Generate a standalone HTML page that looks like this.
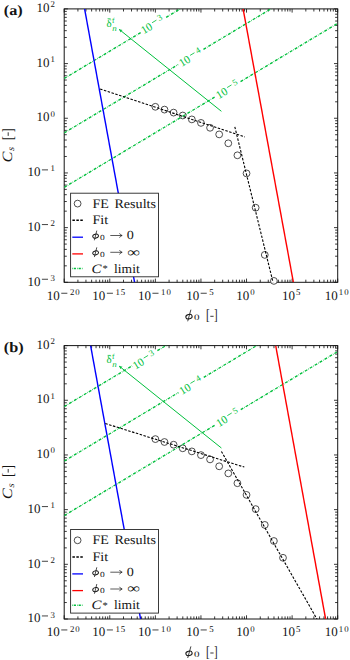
<!DOCTYPE html>
<html><head><meta charset="utf-8"><style>
html,body{margin:0;padding:0;background:#fff;}
svg{display:block;}
text{font-family:"Liberation Serif",serif;text-rendering:geometricPrecision;}
.g text{stroke:none;}
</style></head><body>
<svg width="350" height="660" viewBox="0 0 350 660">
<rect width="350" height="660" fill="#fff"/>
<g fill="#141414" color="#141414">
<rect x="64.20" y="8.90" width="273.50" height="273.40" fill="none" stroke="#151515" stroke-width="1.0"/>
<path d="M64.20,282.30h3.7M337.70,282.30h-3.7M64.20,265.84h2.6M337.70,265.84h-2.6M64.20,256.21h2.6M337.70,256.21h-2.6M64.20,249.38h2.6M337.70,249.38h-2.6M64.20,244.08h2.6M337.70,244.08h-2.6M64.20,239.75h2.6M337.70,239.75h-2.6M64.20,236.09h2.6M337.70,236.09h-2.6M64.20,232.92h2.6M337.70,232.92h-2.6M64.20,230.12h2.6M337.70,230.12h-2.6M64.20,227.62h3.7M337.70,227.62h-3.7M64.20,211.16h2.6M337.70,211.16h-2.6M64.20,201.53h2.6M337.70,201.53h-2.6M64.20,194.70h2.6M337.70,194.70h-2.6M64.20,189.40h2.6M337.70,189.40h-2.6M64.20,185.07h2.6M337.70,185.07h-2.6M64.20,181.41h2.6M337.70,181.41h-2.6M64.20,178.24h2.6M337.70,178.24h-2.6M64.20,175.44h2.6M337.70,175.44h-2.6M64.20,172.94h3.7M337.70,172.94h-3.7M64.20,156.48h2.6M337.70,156.48h-2.6M64.20,146.85h2.6M337.70,146.85h-2.6M64.20,140.02h2.6M337.70,140.02h-2.6M64.20,134.72h2.6M337.70,134.72h-2.6M64.20,130.39h2.6M337.70,130.39h-2.6M64.20,126.73h2.6M337.70,126.73h-2.6M64.20,123.56h2.6M337.70,123.56h-2.6M64.20,120.76h2.6M337.70,120.76h-2.6M64.20,118.26h3.7M337.70,118.26h-3.7M64.20,101.80h2.6M337.70,101.80h-2.6M64.20,92.17h2.6M337.70,92.17h-2.6M64.20,85.34h2.6M337.70,85.34h-2.6M64.20,80.04h2.6M337.70,80.04h-2.6M64.20,75.71h2.6M337.70,75.71h-2.6M64.20,72.05h2.6M337.70,72.05h-2.6M64.20,68.88h2.6M337.70,68.88h-2.6M64.20,66.08h2.6M337.70,66.08h-2.6M64.20,63.58h3.7M337.70,63.58h-3.7M64.20,47.12h2.6M337.70,47.12h-2.6M64.20,37.49h2.6M337.70,37.49h-2.6M64.20,30.66h2.6M337.70,30.66h-2.6M64.20,25.36h2.6M337.70,25.36h-2.6M64.20,21.03h2.6M337.70,21.03h-2.6M64.20,17.37h2.6M337.70,17.37h-2.6M64.20,14.20h2.6M337.70,14.20h-2.6M64.20,11.40h2.6M337.70,11.40h-2.6M64.20,8.90h3.7M337.70,8.90h-3.7M64.20,282.30v-3.7M64.20,8.90v3.7M77.92,282.30v-2.6M77.92,8.90v2.6M85.95,282.30v-2.6M85.95,8.90v2.6M91.64,282.30v-2.6M91.64,8.90v2.6M96.06,282.30v-2.6M96.06,8.90v2.6M99.67,282.30v-2.6M99.67,8.90v2.6M102.72,282.30v-2.6M102.72,8.90v2.6M105.37,282.30v-2.6M105.37,8.90v2.6M107.70,282.30v-2.6M107.70,8.90v2.6M109.78,282.30v-3.7M109.78,8.90v3.7M123.51,282.30v-2.6M123.51,8.90v2.6M131.53,282.30v-2.6M131.53,8.90v2.6M137.23,282.30v-2.6M137.23,8.90v2.6M141.64,282.30v-2.6M141.64,8.90v2.6M145.25,282.30v-2.6M145.25,8.90v2.6M148.31,282.30v-2.6M148.31,8.90v2.6M150.95,282.30v-2.6M150.95,8.90v2.6M153.28,282.30v-2.6M153.28,8.90v2.6M155.37,282.30v-3.7M155.37,8.90v3.7M169.09,282.30v-2.6M169.09,8.90v2.6M177.12,282.30v-2.6M177.12,8.90v2.6M182.81,282.30v-2.6M182.81,8.90v2.6M187.23,282.30v-2.6M187.23,8.90v2.6M190.84,282.30v-2.6M190.84,8.90v2.6M193.89,282.30v-2.6M193.89,8.90v2.6M196.53,282.30v-2.6M196.53,8.90v2.6M198.86,282.30v-2.6M198.86,8.90v2.6M200.95,282.30v-3.7M200.95,8.90v3.7M214.67,282.30v-2.6M214.67,8.90v2.6M222.70,282.30v-2.6M222.70,8.90v2.6M228.39,282.30v-2.6M228.39,8.90v2.6M232.81,282.30v-2.6M232.81,8.90v2.6M236.42,282.30v-2.6M236.42,8.90v2.6M239.47,282.30v-2.6M239.47,8.90v2.6M242.12,282.30v-2.6M242.12,8.90v2.6M244.45,282.30v-2.6M244.45,8.90v2.6M246.53,282.30v-3.7M246.53,8.90v3.7M260.26,282.30v-2.6M260.26,8.90v2.6M268.28,282.30v-2.6M268.28,8.90v2.6M273.98,282.30v-2.6M273.98,8.90v2.6M278.39,282.30v-2.6M278.39,8.90v2.6M282.00,282.30v-2.6M282.00,8.90v2.6M285.06,282.30v-2.6M285.06,8.90v2.6M287.70,282.30v-2.6M287.70,8.90v2.6M290.03,282.30v-2.6M290.03,8.90v2.6M292.12,282.30v-3.7M292.12,8.90v3.7M305.84,282.30v-2.6M305.84,8.90v2.6M313.87,282.30v-2.6M313.87,8.90v2.6M319.56,282.30v-2.6M319.56,8.90v2.6M323.98,282.30v-2.6M323.98,8.90v2.6M327.59,282.30v-2.6M327.59,8.90v2.6M330.64,282.30v-2.6M330.64,8.90v2.6M333.28,282.30v-2.6M333.28,8.90v2.6M335.61,282.30v-2.6M335.61,8.90v2.6M337.70,282.30v-3.7M337.70,8.90v3.7" stroke="#151515" stroke-width="0.85" fill="none"/>
<circle cx="155.37" cy="106.80" r="3.4" fill="#fff" stroke="#2e2e2e" stroke-width="0.85"/>
<circle cx="164.48" cy="109.60" r="3.4" fill="#fff" stroke="#2e2e2e" stroke-width="0.85"/>
<circle cx="173.60" cy="112.60" r="3.4" fill="#fff" stroke="#2e2e2e" stroke-width="0.85"/>
<circle cx="182.72" cy="115.50" r="3.4" fill="#fff" stroke="#2e2e2e" stroke-width="0.85"/>
<circle cx="191.83" cy="119.40" r="3.4" fill="#fff" stroke="#2e2e2e" stroke-width="0.85"/>
<circle cx="200.95" cy="122.90" r="3.4" fill="#fff" stroke="#2e2e2e" stroke-width="0.85"/>
<circle cx="210.07" cy="127.80" r="3.4" fill="#fff" stroke="#2e2e2e" stroke-width="0.85"/>
<circle cx="219.18" cy="134.40" r="3.4" fill="#fff" stroke="#2e2e2e" stroke-width="0.85"/>
<circle cx="228.30" cy="143.30" r="3.4" fill="#fff" stroke="#2e2e2e" stroke-width="0.85"/>
<circle cx="237.42" cy="155.30" r="3.4" fill="#fff" stroke="#2e2e2e" stroke-width="0.85"/>
<circle cx="246.53" cy="173.40" r="3.4" fill="#fff" stroke="#2e2e2e" stroke-width="0.85"/>
<circle cx="255.65" cy="207.70" r="3.4" fill="#fff" stroke="#2e2e2e" stroke-width="0.85"/>
<circle cx="264.77" cy="254.90" r="3.4" fill="#fff" stroke="#2e2e2e" stroke-width="0.85"/>
<circle cx="273.88" cy="280.90" r="3.4" fill="#fff" stroke="#2e2e2e" stroke-width="0.85"/>
<clipPath id="clip0"><rect x="64.20" y="8.90" width="273.50" height="273.40"/></clipPath>
<g clip-path="url(#clip0)">
<line x1="64.20" y1="78.50" x2="140.85" y2="32.51" stroke="#00bf3c" stroke-width="1.35" stroke-dasharray="2.9 1.15 0.55 1.15"/>
<line x1="166.15" y1="17.33" x2="337.70" y2="-85.60" stroke="#00bf3c" stroke-width="1.35" stroke-dasharray="2.9 1.15 0.55 1.15"/>
<line x1="64.20" y1="132.90" x2="178.15" y2="64.53" stroke="#00bf3c" stroke-width="1.35" stroke-dasharray="2.9 1.15 0.55 1.15"/>
<line x1="203.45" y1="49.35" x2="337.70" y2="-31.20" stroke="#00bf3c" stroke-width="1.35" stroke-dasharray="2.9 1.15 0.55 1.15"/>
<line x1="64.20" y1="187.40" x2="215.25" y2="96.77" stroke="#00bf3c" stroke-width="1.35" stroke-dasharray="2.9 1.15 0.55 1.15"/>
<line x1="240.55" y1="81.59" x2="337.70" y2="23.30" stroke="#00bf3c" stroke-width="1.35" stroke-dasharray="2.9 1.15 0.55 1.15"/>
<line x1="84.60" y1="8.90" x2="134.60" y2="282.30" stroke="#0000ff" stroke-width="1.4"/>
<line x1="243.10" y1="8.90" x2="293.40" y2="282.30" stroke="#ff0000" stroke-width="1.4"/>
<line x1="119.20" y1="29.40" x2="221.40" y2="111.30" stroke="#00bf3c" stroke-width="1.0"/>
<path d="M118.97,29.21 L120.62,32.59 L121.15,30.96 L122.62,30.09 Z" fill="#00bf3c"/>
<path d="M100.10,88.90 L244.90,137.00" fill="none" stroke="#000" stroke-width="1.1" stroke-dasharray="2.5 1.5"/>
<path d="M234.80,126.80 L273.20,283.00" fill="none" stroke="#000" stroke-width="1.1" stroke-dasharray="2.5 1.5"/>
</g>
<g transform="translate(153.50,24.92) rotate(-30.96) translate(0,0)" fill="#00bf3c" class="g">
<text x="-13.2" y="3.1" font-size="11.2">10</text>
<line x1="-0.1" y1="-2.6" x2="5.0" y2="-2.6" stroke="#00bf3c" stroke-width="0.75"/>
<text x="6.9" y="-0.1" font-size="8.8">3</text>
</g>
<g transform="translate(190.80,56.94) rotate(-30.96) translate(0.3,0.9)" fill="#00bf3c" class="g">
<text x="-13.2" y="3.1" font-size="11.2">10</text>
<line x1="-0.1" y1="-2.6" x2="5.0" y2="-2.6" stroke="#00bf3c" stroke-width="0.75"/>
<text x="6.9" y="-0.1" font-size="8.8">4</text>
</g>
<g transform="translate(227.90,89.18) rotate(-30.96) translate(0.3,0.8)" fill="#00bf3c" class="g">
<text x="-13.2" y="3.1" font-size="11.2">10</text>
<line x1="-0.1" y1="-2.6" x2="5.0" y2="-2.6" stroke="#00bf3c" stroke-width="0.75"/>
<text x="6.9" y="-0.1" font-size="8.8">5</text>
</g>
<g fill="#00bf3c" class="g">
<text x="106.50" y="26.50" font-size="10.9">δ</text>
<line x1="107.60" y1="18.70" x2="110.60" y2="18.70" stroke="#00bf3c" stroke-width="0.7"/>
<text x="112.10" y="22.60" font-size="7.4">f</text>
<text transform="translate(112.20,30.60) scale(1.12,1)" font-size="8.0" font-style="italic">n</text>
</g>
<rect x="70.60" y="193.20" width="87.90" height="83.60" fill="#fff" stroke="#262626" stroke-width="0.9"/>
<circle cx="77.6" cy="203.60" r="3.4" fill="none" stroke="#2e2e2e" stroke-width="0.85"/>
<line x1="72.4" y1="220.30" x2="82.8" y2="220.30" stroke="#000" stroke-width="1.5" stroke-dasharray="2.5 1.45"/>
<line x1="72.3" y1="237.20" x2="83.0" y2="237.20" stroke="#0000ff" stroke-width="1.3"/>
<line x1="72.3" y1="253.90" x2="83.0" y2="253.90" stroke="#ff0000" stroke-width="1.3"/>
<line x1="72.1" y1="268.50" x2="83.0" y2="268.50" stroke="#00bf3c" stroke-width="1.35" stroke-dasharray="0.6 1.05 2.2 1.05"/>
<text transform="translate(92.40,207.50) scale(1.081,1)" font-size="13.0">FE</text>
<text transform="translate(114.39,207.50) scale(1.087,1)" font-size="13.0">Results</text>
<text transform="translate(92.39,224.00) scale(1.093,1)" font-size="13.0">Fit</text>
<ellipse cx="95.60" cy="236.10" rx="2.9" ry="2.0" transform="rotate(-15 95.60 236.10)" fill="none" stroke="#141414" stroke-width="0.95"/><line x1="96.80" y1="230.60" x2="94.40" y2="240.30" stroke="#141414" stroke-width="0.75"/>
<text transform="translate(100.04,240.00) scale(1.210,1)" font-size="7.8">0</text>
<path d="M110.3,235.50H121.9M119.5,233.30Q120.3,235.10 122.2,235.50Q120.3,235.90 119.5,237.70" fill="none" stroke="#141414" stroke-width="0.7"/>
<ellipse cx="95.60" cy="252.85" rx="2.9" ry="2.0" transform="rotate(-15 95.60 252.85)" fill="none" stroke="#141414" stroke-width="0.95"/><line x1="96.80" y1="247.35" x2="94.40" y2="257.05" stroke="#141414" stroke-width="0.75"/>
<text transform="translate(100.04,256.75) scale(1.210,1)" font-size="7.8">0</text>
<path d="M110.3,252.30H121.9M119.5,250.10Q120.3,251.90 122.2,252.30Q120.3,252.70 119.5,254.50" fill="none" stroke="#141414" stroke-width="0.7"/>
<text transform="translate(126.66,238.80) scale(1.142,1)" font-size="12.4">0</text>
<text transform="translate(127.23,256.70) scale(1.260,1)" font-size="14.2">∞</text>
<text transform="translate(91.57,272.50) scale(1.171,1)" font-size="12.8" font-style="italic">C</text>
<text x="102.6" y="271.90" font-size="10.5">*</text>
<text transform="translate(114.03,272.50) scale(1.044,1)" font-size="13.0">limit</text>
<text x="36.60" y="12.10" font-size="13.0">10</text>
<text x="50.60" y="7.40" font-size="8.8" letter-spacing="0.9">2</text>
<text x="36.60" y="66.78" font-size="13.0">10</text>
<text x="50.60" y="62.08" font-size="8.8" letter-spacing="0.9">1</text>
<text x="36.60" y="121.46" font-size="13.0">10</text>
<text x="50.60" y="116.76" font-size="8.8" letter-spacing="0.9">0</text>
<text x="27.40" y="176.14" font-size="13.0">10</text>
<line x1="41.90" y1="169.89" x2="48.00" y2="169.89" stroke="#141414" stroke-width="0.8"/>
<text x="50.60" y="171.44" font-size="8.8" letter-spacing="0.9">1</text>
<text x="27.40" y="230.82" font-size="13.0">10</text>
<line x1="41.90" y1="224.57" x2="48.00" y2="224.57" stroke="#141414" stroke-width="0.8"/>
<text x="50.60" y="226.12" font-size="8.8" letter-spacing="0.9">2</text>
<text x="27.40" y="285.50" font-size="13.0">10</text>
<line x1="41.90" y1="279.25" x2="48.00" y2="279.25" stroke="#141414" stroke-width="0.8"/>
<text x="50.60" y="280.80" font-size="8.8" letter-spacing="0.9">3</text>
<text x="46.75" y="299.50" font-size="13.0">10</text>
<line x1="61.25" y1="293.25" x2="67.35" y2="293.25" stroke="#141414" stroke-width="0.8"/>
<text x="69.95" y="294.80" font-size="8.8" letter-spacing="0.9">20</text>
<text x="92.33" y="299.50" font-size="13.0">10</text>
<line x1="106.83" y1="293.25" x2="112.93" y2="293.25" stroke="#141414" stroke-width="0.8"/>
<text x="115.53" y="294.80" font-size="8.8" letter-spacing="0.9">15</text>
<text x="137.92" y="299.50" font-size="13.0">10</text>
<line x1="152.42" y1="293.25" x2="158.52" y2="293.25" stroke="#141414" stroke-width="0.8"/>
<text x="161.12" y="294.80" font-size="8.8" letter-spacing="0.9">10</text>
<text x="186.15" y="299.50" font-size="13.0">10</text>
<line x1="200.65" y1="293.25" x2="206.75" y2="293.25" stroke="#141414" stroke-width="0.8"/>
<text x="209.35" y="294.80" font-size="8.8" letter-spacing="0.9">5</text>
<text x="236.33" y="299.50" font-size="13.0">10</text>
<text x="250.33" y="294.80" font-size="8.8" letter-spacing="0.9">0</text>
<text x="281.92" y="299.50" font-size="13.0">10</text>
<text x="295.92" y="294.80" font-size="8.8" letter-spacing="0.9">5</text>
<text x="324.85" y="299.50" font-size="13.0">10</text>
<text x="338.85" y="294.80" font-size="8.8" letter-spacing="0.9">10</text>
<ellipse cx="189.00" cy="316.70" rx="3.2" ry="2.2" transform="rotate(-15 189.00 316.70)" fill="none" stroke="#141414" stroke-width="1.0"/><line x1="190.90" y1="309.70" x2="187.70" y2="321.30" stroke="#141414" stroke-width="0.8"/>
<text transform="translate(193.98,320.40) scale(1.336,1)" font-size="8.3">0</text>
<text transform="translate(206.07,319.80) scale(0.724,1)" font-size="15.5">[</text>
<text transform="translate(214.01,319.80) scale(0.695,1)" font-size="15.5">]</text>
<line x1="210.3" y1="316.30" x2="213.6" y2="316.30" stroke="#141414" stroke-width="0.85"/>
<g transform="translate(11.7,162.50) rotate(-90)">
<text transform="scale(1.15,1)" font-size="14.2" font-style="italic">C</text>
<text transform="translate(11.6,1.8) scale(1.12,1)" font-size="9.6" font-style="italic">s</text>
<text transform="translate(22.5,1.2) scale(0.74,1)" font-size="15.5">[</text>
<text transform="translate(30.3,1.2) scale(0.74,1)" font-size="15.5">]</text>
<line x1="26.6" y1="-3.5" x2="30.2" y2="-3.5" stroke="#141414" stroke-width="0.85"/>
</g>
<text transform="translate(3.8,15.00) scale(1.12,1)" font-size="14.5" font-weight="bold">(a)</text>
<rect x="64.20" y="345.60" width="273.50" height="273.40" fill="none" stroke="#151515" stroke-width="1.0"/>
<path d="M64.20,619.00h3.7M337.70,619.00h-3.7M64.20,602.54h2.6M337.70,602.54h-2.6M64.20,592.91h2.6M337.70,592.91h-2.6M64.20,586.08h2.6M337.70,586.08h-2.6M64.20,580.78h2.6M337.70,580.78h-2.6M64.20,576.45h2.6M337.70,576.45h-2.6M64.20,572.79h2.6M337.70,572.79h-2.6M64.20,569.62h2.6M337.70,569.62h-2.6M64.20,566.82h2.6M337.70,566.82h-2.6M64.20,564.32h3.7M337.70,564.32h-3.7M64.20,547.86h2.6M337.70,547.86h-2.6M64.20,538.23h2.6M337.70,538.23h-2.6M64.20,531.40h2.6M337.70,531.40h-2.6M64.20,526.10h2.6M337.70,526.10h-2.6M64.20,521.77h2.6M337.70,521.77h-2.6M64.20,518.11h2.6M337.70,518.11h-2.6M64.20,514.94h2.6M337.70,514.94h-2.6M64.20,512.14h2.6M337.70,512.14h-2.6M64.20,509.64h3.7M337.70,509.64h-3.7M64.20,493.18h2.6M337.70,493.18h-2.6M64.20,483.55h2.6M337.70,483.55h-2.6M64.20,476.72h2.6M337.70,476.72h-2.6M64.20,471.42h2.6M337.70,471.42h-2.6M64.20,467.09h2.6M337.70,467.09h-2.6M64.20,463.43h2.6M337.70,463.43h-2.6M64.20,460.26h2.6M337.70,460.26h-2.6M64.20,457.46h2.6M337.70,457.46h-2.6M64.20,454.96h3.7M337.70,454.96h-3.7M64.20,438.50h2.6M337.70,438.50h-2.6M64.20,428.87h2.6M337.70,428.87h-2.6M64.20,422.04h2.6M337.70,422.04h-2.6M64.20,416.74h2.6M337.70,416.74h-2.6M64.20,412.41h2.6M337.70,412.41h-2.6M64.20,408.75h2.6M337.70,408.75h-2.6M64.20,405.58h2.6M337.70,405.58h-2.6M64.20,402.78h2.6M337.70,402.78h-2.6M64.20,400.28h3.7M337.70,400.28h-3.7M64.20,383.82h2.6M337.70,383.82h-2.6M64.20,374.19h2.6M337.70,374.19h-2.6M64.20,367.36h2.6M337.70,367.36h-2.6M64.20,362.06h2.6M337.70,362.06h-2.6M64.20,357.73h2.6M337.70,357.73h-2.6M64.20,354.07h2.6M337.70,354.07h-2.6M64.20,350.90h2.6M337.70,350.90h-2.6M64.20,348.10h2.6M337.70,348.10h-2.6M64.20,345.60h3.7M337.70,345.60h-3.7M64.20,619.00v-3.7M64.20,345.60v3.7M77.92,619.00v-2.6M77.92,345.60v2.6M85.95,619.00v-2.6M85.95,345.60v2.6M91.64,619.00v-2.6M91.64,345.60v2.6M96.06,619.00v-2.6M96.06,345.60v2.6M99.67,619.00v-2.6M99.67,345.60v2.6M102.72,619.00v-2.6M102.72,345.60v2.6M105.37,619.00v-2.6M105.37,345.60v2.6M107.70,619.00v-2.6M107.70,345.60v2.6M109.78,619.00v-3.7M109.78,345.60v3.7M123.51,619.00v-2.6M123.51,345.60v2.6M131.53,619.00v-2.6M131.53,345.60v2.6M137.23,619.00v-2.6M137.23,345.60v2.6M141.64,619.00v-2.6M141.64,345.60v2.6M145.25,619.00v-2.6M145.25,345.60v2.6M148.31,619.00v-2.6M148.31,345.60v2.6M150.95,619.00v-2.6M150.95,345.60v2.6M153.28,619.00v-2.6M153.28,345.60v2.6M155.37,619.00v-3.7M155.37,345.60v3.7M169.09,619.00v-2.6M169.09,345.60v2.6M177.12,619.00v-2.6M177.12,345.60v2.6M182.81,619.00v-2.6M182.81,345.60v2.6M187.23,619.00v-2.6M187.23,345.60v2.6M190.84,619.00v-2.6M190.84,345.60v2.6M193.89,619.00v-2.6M193.89,345.60v2.6M196.53,619.00v-2.6M196.53,345.60v2.6M198.86,619.00v-2.6M198.86,345.60v2.6M200.95,619.00v-3.7M200.95,345.60v3.7M214.67,619.00v-2.6M214.67,345.60v2.6M222.70,619.00v-2.6M222.70,345.60v2.6M228.39,619.00v-2.6M228.39,345.60v2.6M232.81,619.00v-2.6M232.81,345.60v2.6M236.42,619.00v-2.6M236.42,345.60v2.6M239.47,619.00v-2.6M239.47,345.60v2.6M242.12,619.00v-2.6M242.12,345.60v2.6M244.45,619.00v-2.6M244.45,345.60v2.6M246.53,619.00v-3.7M246.53,345.60v3.7M260.26,619.00v-2.6M260.26,345.60v2.6M268.28,619.00v-2.6M268.28,345.60v2.6M273.98,619.00v-2.6M273.98,345.60v2.6M278.39,619.00v-2.6M278.39,345.60v2.6M282.00,619.00v-2.6M282.00,345.60v2.6M285.06,619.00v-2.6M285.06,345.60v2.6M287.70,619.00v-2.6M287.70,345.60v2.6M290.03,619.00v-2.6M290.03,345.60v2.6M292.12,619.00v-3.7M292.12,345.60v3.7M305.84,619.00v-2.6M305.84,345.60v2.6M313.87,619.00v-2.6M313.87,345.60v2.6M319.56,619.00v-2.6M319.56,345.60v2.6M323.98,619.00v-2.6M323.98,345.60v2.6M327.59,619.00v-2.6M327.59,345.60v2.6M330.64,619.00v-2.6M330.64,345.60v2.6M333.28,619.00v-2.6M333.28,345.60v2.6M335.61,619.00v-2.6M335.61,345.60v2.6M337.70,619.00v-3.7M337.70,345.60v3.7" stroke="#151515" stroke-width="0.85" fill="none"/>
<circle cx="155.37" cy="439.10" r="3.4" fill="#fff" stroke="#2e2e2e" stroke-width="0.85"/>
<circle cx="164.48" cy="442.00" r="3.4" fill="#fff" stroke="#2e2e2e" stroke-width="0.85"/>
<circle cx="173.60" cy="444.70" r="3.4" fill="#fff" stroke="#2e2e2e" stroke-width="0.85"/>
<circle cx="182.72" cy="448.30" r="3.4" fill="#fff" stroke="#2e2e2e" stroke-width="0.85"/>
<circle cx="191.83" cy="451.40" r="3.4" fill="#fff" stroke="#2e2e2e" stroke-width="0.85"/>
<circle cx="200.95" cy="455.10" r="3.4" fill="#fff" stroke="#2e2e2e" stroke-width="0.85"/>
<circle cx="210.07" cy="459.40" r="3.4" fill="#fff" stroke="#2e2e2e" stroke-width="0.85"/>
<circle cx="219.18" cy="466.30" r="3.4" fill="#fff" stroke="#2e2e2e" stroke-width="0.85"/>
<circle cx="228.30" cy="473.40" r="3.4" fill="#fff" stroke="#2e2e2e" stroke-width="0.85"/>
<circle cx="237.42" cy="483.20" r="3.4" fill="#fff" stroke="#2e2e2e" stroke-width="0.85"/>
<circle cx="246.53" cy="494.90" r="3.4" fill="#fff" stroke="#2e2e2e" stroke-width="0.85"/>
<circle cx="255.65" cy="509.10" r="3.4" fill="#fff" stroke="#2e2e2e" stroke-width="0.85"/>
<circle cx="264.77" cy="524.90" r="3.4" fill="#fff" stroke="#2e2e2e" stroke-width="0.85"/>
<circle cx="273.88" cy="541.00" r="3.4" fill="#fff" stroke="#2e2e2e" stroke-width="0.85"/>
<circle cx="283.00" cy="557.80" r="3.4" fill="#fff" stroke="#2e2e2e" stroke-width="0.85"/>
<clipPath id="clip1"><rect x="64.20" y="345.60" width="273.50" height="273.40"/></clipPath>
<g clip-path="url(#clip1)">
<line x1="64.20" y1="406.60" x2="132.10" y2="365.86" stroke="#00bf3c" stroke-width="1.35" stroke-dasharray="2.9 1.15 0.55 1.15"/>
<line x1="157.40" y1="350.68" x2="337.70" y2="242.50" stroke="#00bf3c" stroke-width="1.35" stroke-dasharray="2.9 1.15 0.55 1.15"/>
<line x1="64.20" y1="461.10" x2="178.45" y2="392.55" stroke="#00bf3c" stroke-width="1.35" stroke-dasharray="2.9 1.15 0.55 1.15"/>
<line x1="203.75" y1="377.37" x2="337.70" y2="297.00" stroke="#00bf3c" stroke-width="1.35" stroke-dasharray="2.9 1.15 0.55 1.15"/>
<line x1="64.20" y1="515.60" x2="215.45" y2="424.85" stroke="#00bf3c" stroke-width="1.35" stroke-dasharray="2.9 1.15 0.55 1.15"/>
<line x1="240.75" y1="409.67" x2="337.70" y2="351.50" stroke="#00bf3c" stroke-width="1.35" stroke-dasharray="2.9 1.15 0.55 1.15"/>
<line x1="90.60" y1="345.60" x2="140.60" y2="619.00" stroke="#0000ff" stroke-width="1.4"/>
<line x1="275.70" y1="345.60" x2="325.60" y2="619.00" stroke="#ff0000" stroke-width="1.4"/>
<line x1="119.20" y1="366.10" x2="221.40" y2="448.00" stroke="#00bf3c" stroke-width="1.0"/>
<path d="M118.97,365.91 L120.62,369.29 L121.15,367.66 L122.62,366.79 Z" fill="#00bf3c"/>
<path d="M105.30,423.50 L244.30,467.10" fill="none" stroke="#000" stroke-width="1.1" stroke-dasharray="2.5 1.5"/>
<path d="M221.40,451.40 L317.50,620.00" fill="none" stroke="#000" stroke-width="1.1" stroke-dasharray="2.5 1.5"/>
</g>
<g transform="translate(144.75,358.27) rotate(-30.96) translate(-0.7,1.9)" fill="#00bf3c" class="g">
<text x="-13.2" y="3.1" font-size="11.2">10</text>
<line x1="-0.1" y1="-2.6" x2="5.0" y2="-2.6" stroke="#00bf3c" stroke-width="0.75"/>
<text x="6.9" y="-0.1" font-size="8.8">3</text>
</g>
<g transform="translate(191.10,384.96) rotate(-30.96) translate(0.3,0.9)" fill="#00bf3c" class="g">
<text x="-13.2" y="3.1" font-size="11.2">10</text>
<line x1="-0.1" y1="-2.6" x2="5.0" y2="-2.6" stroke="#00bf3c" stroke-width="0.75"/>
<text x="6.9" y="-0.1" font-size="8.8">4</text>
</g>
<g transform="translate(228.10,417.26) rotate(-30.96) translate(0.3,0.8)" fill="#00bf3c" class="g">
<text x="-13.2" y="3.1" font-size="11.2">10</text>
<line x1="-0.1" y1="-2.6" x2="5.0" y2="-2.6" stroke="#00bf3c" stroke-width="0.75"/>
<text x="6.9" y="-0.1" font-size="8.8">5</text>
</g>
<g fill="#00bf3c" class="g">
<text x="106.50" y="363.20" font-size="10.9">δ</text>
<line x1="107.60" y1="355.40" x2="110.60" y2="355.40" stroke="#00bf3c" stroke-width="0.7"/>
<text x="112.10" y="359.30" font-size="7.4">f</text>
<text transform="translate(112.20,367.30) scale(1.12,1)" font-size="8.0" font-style="italic">n</text>
</g>
<rect x="70.60" y="529.50" width="87.90" height="83.60" fill="#fff" stroke="#262626" stroke-width="0.9"/>
<circle cx="77.6" cy="540.30" r="3.4" fill="none" stroke="#2e2e2e" stroke-width="0.85"/>
<line x1="72.4" y1="557.00" x2="82.8" y2="557.00" stroke="#000" stroke-width="1.5" stroke-dasharray="2.5 1.45"/>
<line x1="72.3" y1="573.90" x2="83.0" y2="573.90" stroke="#0000ff" stroke-width="1.3"/>
<line x1="72.3" y1="590.60" x2="83.0" y2="590.60" stroke="#ff0000" stroke-width="1.3"/>
<line x1="72.1" y1="605.20" x2="83.0" y2="605.20" stroke="#00bf3c" stroke-width="1.35" stroke-dasharray="0.6 1.05 2.2 1.05"/>
<text transform="translate(92.40,544.20) scale(1.081,1)" font-size="13.0">FE</text>
<text transform="translate(114.39,544.20) scale(1.087,1)" font-size="13.0">Results</text>
<text transform="translate(92.39,560.70) scale(1.093,1)" font-size="13.0">Fit</text>
<ellipse cx="95.60" cy="572.80" rx="2.9" ry="2.0" transform="rotate(-15 95.60 572.80)" fill="none" stroke="#141414" stroke-width="0.95"/><line x1="96.80" y1="567.30" x2="94.40" y2="577.00" stroke="#141414" stroke-width="0.75"/>
<text transform="translate(100.04,576.70) scale(1.210,1)" font-size="7.8">0</text>
<path d="M110.3,572.20H121.9M119.5,570.00Q120.3,571.80 122.2,572.20Q120.3,572.60 119.5,574.40" fill="none" stroke="#141414" stroke-width="0.7"/>
<ellipse cx="95.60" cy="589.55" rx="2.9" ry="2.0" transform="rotate(-15 95.60 589.55)" fill="none" stroke="#141414" stroke-width="0.95"/><line x1="96.80" y1="584.05" x2="94.40" y2="593.75" stroke="#141414" stroke-width="0.75"/>
<text transform="translate(100.04,593.45) scale(1.210,1)" font-size="7.8">0</text>
<path d="M110.3,589.00H121.9M119.5,586.80Q120.3,588.60 122.2,589.00Q120.3,589.40 119.5,591.20" fill="none" stroke="#141414" stroke-width="0.7"/>
<text transform="translate(126.66,575.50) scale(1.142,1)" font-size="12.4">0</text>
<text transform="translate(127.23,593.40) scale(1.260,1)" font-size="14.2">∞</text>
<text transform="translate(91.57,609.20) scale(1.171,1)" font-size="12.8" font-style="italic">C</text>
<text x="102.6" y="608.60" font-size="10.5">*</text>
<text transform="translate(114.03,609.20) scale(1.044,1)" font-size="13.0">limit</text>
<text x="36.60" y="348.80" font-size="13.0">10</text>
<text x="50.60" y="344.10" font-size="8.8" letter-spacing="0.9">2</text>
<text x="36.60" y="403.48" font-size="13.0">10</text>
<text x="50.60" y="398.78" font-size="8.8" letter-spacing="0.9">1</text>
<text x="36.60" y="458.16" font-size="13.0">10</text>
<text x="50.60" y="453.46" font-size="8.8" letter-spacing="0.9">0</text>
<text x="27.40" y="512.84" font-size="13.0">10</text>
<line x1="41.90" y1="506.59" x2="48.00" y2="506.59" stroke="#141414" stroke-width="0.8"/>
<text x="50.60" y="508.14" font-size="8.8" letter-spacing="0.9">1</text>
<text x="27.40" y="567.52" font-size="13.0">10</text>
<line x1="41.90" y1="561.27" x2="48.00" y2="561.27" stroke="#141414" stroke-width="0.8"/>
<text x="50.60" y="562.82" font-size="8.8" letter-spacing="0.9">2</text>
<text x="27.40" y="622.20" font-size="13.0">10</text>
<line x1="41.90" y1="615.95" x2="48.00" y2="615.95" stroke="#141414" stroke-width="0.8"/>
<text x="50.60" y="617.50" font-size="8.8" letter-spacing="0.9">3</text>
<text x="46.75" y="636.20" font-size="13.0">10</text>
<line x1="61.25" y1="629.95" x2="67.35" y2="629.95" stroke="#141414" stroke-width="0.8"/>
<text x="69.95" y="631.50" font-size="8.8" letter-spacing="0.9">20</text>
<text x="92.33" y="636.20" font-size="13.0">10</text>
<line x1="106.83" y1="629.95" x2="112.93" y2="629.95" stroke="#141414" stroke-width="0.8"/>
<text x="115.53" y="631.50" font-size="8.8" letter-spacing="0.9">15</text>
<text x="137.92" y="636.20" font-size="13.0">10</text>
<line x1="152.42" y1="629.95" x2="158.52" y2="629.95" stroke="#141414" stroke-width="0.8"/>
<text x="161.12" y="631.50" font-size="8.8" letter-spacing="0.9">10</text>
<text x="186.15" y="636.20" font-size="13.0">10</text>
<line x1="200.65" y1="629.95" x2="206.75" y2="629.95" stroke="#141414" stroke-width="0.8"/>
<text x="209.35" y="631.50" font-size="8.8" letter-spacing="0.9">5</text>
<text x="236.33" y="636.20" font-size="13.0">10</text>
<text x="250.33" y="631.50" font-size="8.8" letter-spacing="0.9">0</text>
<text x="281.92" y="636.20" font-size="13.0">10</text>
<text x="295.92" y="631.50" font-size="8.8" letter-spacing="0.9">5</text>
<text x="324.85" y="636.20" font-size="13.0">10</text>
<text x="338.85" y="631.50" font-size="8.8" letter-spacing="0.9">10</text>
<ellipse cx="189.00" cy="653.40" rx="3.2" ry="2.2" transform="rotate(-15 189.00 653.40)" fill="none" stroke="#141414" stroke-width="1.0"/><line x1="190.90" y1="646.40" x2="187.70" y2="658.00" stroke="#141414" stroke-width="0.8"/>
<text transform="translate(193.98,657.10) scale(1.336,1)" font-size="8.3">0</text>
<text transform="translate(206.07,656.50) scale(0.724,1)" font-size="15.5">[</text>
<text transform="translate(214.01,656.50) scale(0.695,1)" font-size="15.5">]</text>
<line x1="210.3" y1="653.00" x2="213.6" y2="653.00" stroke="#141414" stroke-width="0.85"/>
<g transform="translate(11.7,499.20) rotate(-90)">
<text transform="scale(1.15,1)" font-size="14.2" font-style="italic">C</text>
<text transform="translate(11.6,1.8) scale(1.12,1)" font-size="9.6" font-style="italic">s</text>
<text transform="translate(22.5,1.2) scale(0.74,1)" font-size="15.5">[</text>
<text transform="translate(30.3,1.2) scale(0.74,1)" font-size="15.5">]</text>
<line x1="26.6" y1="-3.5" x2="30.2" y2="-3.5" stroke="#141414" stroke-width="0.85"/>
</g>
<text transform="translate(3.8,351.70) scale(1.12,1)" font-size="14.5" font-weight="bold">(b)</text>
</g>
</svg>
</body></html>
